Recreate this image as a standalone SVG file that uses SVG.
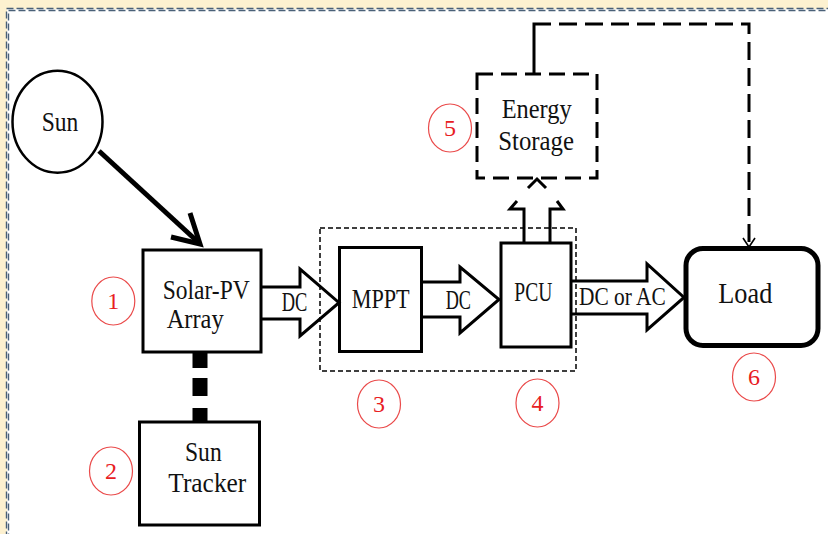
<svg xmlns="http://www.w3.org/2000/svg" width="828" height="534" viewBox="0 0 828 534">
<style>
.box{fill:none;stroke:#000;stroke-width:3}
.lbl{font-family:"Liberation Serif",serif;font-size:27px;fill:#111}
.num{font-family:"Liberation Serif",serif;font-size:24px;fill:#e8201f;text-anchor:middle}
.ring{fill:none;stroke:#ea4a4a;stroke-width:1.2}
.bar{fill:none;stroke:#000;stroke-width:3}
.border{fill:none;stroke:#4a6078;stroke-width:1.4;stroke-dasharray:7 3}
</style>
<rect x="0" y="0" width="828" height="534" fill="#fdf1d0"/>
<rect x="7" y="9" width="840" height="540" fill="#fff"/>
<rect class="border" x="6.5" y="8.5" width="840" height="540"/>
<rect class="border" x="8.5" y="10.5" width="840" height="540"/>

<g id="connectors">
  <line x1="99" y1="151" x2="198" y2="242" stroke="#000" stroke-width="5"/>
  <polyline points="171,237 200,244 190,213" fill="none" stroke="#000" stroke-width="5" stroke-linejoin="miter"/>
  <line x1="200" y1="353" x2="200" y2="422" stroke="#000" stroke-width="15" stroke-dasharray="15 10 18 12 15"/>
  <path class="bar" d="M261,287 H300 V269 L339,302.7 L300,336 V319 H261"/>
  <path class="bar" d="M421,282 H460 V267 L499,299.5 L460,333 V317 H421"/>
  <path class="bar" d="M571,281 H647 V264 L684,297.5 L647,330 V314 H571"/>
  <path class="bar" d="M524,243 V209 H510 L517,201"/>
  <path class="bar" d="M528,188 L537,179 L546,188"/>
  <path class="bar" d="M557,201 L563,209 H550 V243"/>
  <path class="bar" d="M534,74 V24 H551"/>
  <path class="bar" d="M559,24 H749 V244" stroke-dasharray="18 8"/>
  <polyline points="743,238 749,247 755,238" fill="none" stroke="#000" stroke-width="1.6"/>
</g>

<rect x="320" y="228" width="256" height="143" fill="none" stroke="#000" stroke-width="1.5" stroke-dasharray="5 3"/>

<g id="sun">
  <ellipse cx="57.5" cy="121.7" rx="45" ry="51" fill="none" stroke="#000" stroke-width="2.5"/>
  <text class="lbl" x="41.7" y="131" textLength="36.6" lengthAdjust="spacingAndGlyphs">Sun</text>
</g>
<g id="solar-pv">
  <rect class="box" x="143" y="250" width="118" height="102"/>
  <text class="lbl" x="162.7" y="299" textLength="87" lengthAdjust="spacingAndGlyphs">Solar-PV</text>
  <text class="lbl" x="166.7" y="328" textLength="57" lengthAdjust="spacingAndGlyphs">Array</text>
</g>
<g id="sun-tracker">
  <rect class="box" x="139.5" y="422" width="120" height="103"/>
  <text class="lbl" x="185" y="460.7" textLength="36.7" lengthAdjust="spacingAndGlyphs">Sun</text>
  <text class="lbl" x="168.3" y="491.7" textLength="78" lengthAdjust="spacingAndGlyphs">Tracker</text>
</g>
<g id="mppt">
  <rect class="box" x="339.5" y="247.5" width="82" height="104"/>
  <text class="lbl" x="351.7" y="308" textLength="58" lengthAdjust="spacingAndGlyphs">MPPT</text>
</g>
<g id="pcu">
  <rect class="box" x="501" y="243" width="70" height="104"/>
  <text class="lbl" x="514.3" y="301" textLength="38" lengthAdjust="spacingAndGlyphs">PCU</text>
</g>
<g id="energy-storage">
  <rect x="477" y="74" width="120" height="104" fill="none" stroke="#000" stroke-width="3" stroke-dasharray="16 8"/>
  <text class="lbl" x="501.7" y="118" textLength="70" lengthAdjust="spacingAndGlyphs">Energy</text>
  <text class="lbl" x="498.3" y="150" textLength="75.7" lengthAdjust="spacingAndGlyphs">Storage</text>
</g>
<g id="load">
  <rect x="686" y="248.5" width="132" height="97" rx="17" fill="none" stroke="#000" stroke-width="5"/>
  <text class="lbl" x="718.3" y="303.3" textLength="54" lengthAdjust="spacingAndGlyphs" style="font-size:30px">Load</text>
</g>
<g id="edge-labels">
  <text class="lbl" x="281.7" y="311" textLength="25.6" lengthAdjust="spacingAndGlyphs">DC</text>
  <text class="lbl" x="445.7" y="309.3" textLength="25.3" lengthAdjust="spacingAndGlyphs">DC</text>
  <text class="lbl" x="579" y="305" textLength="86.7" lengthAdjust="spacingAndGlyphs" style="font-size:25px">DC or AC</text>
</g>

<g id="n1"><ellipse class="ring" cx="113.3" cy="301" rx="21.5" ry="24"/><text class="num" x="113.3" y="309">1</text></g>
<g id="n2"><ellipse class="ring" cx="111" cy="471" rx="21.5" ry="24"/><text class="num" x="111" y="479">2</text></g>
<g id="n3"><ellipse class="ring" cx="379" cy="404" rx="21.5" ry="24"/><text class="num" x="379" y="412">3</text></g>
<g id="n4"><ellipse class="ring" cx="537.5" cy="403" rx="21.5" ry="24"/><text class="num" x="537.5" y="411">4</text></g>
<g id="n5"><ellipse class="ring" cx="450" cy="128" rx="21.5" ry="24"/><text class="num" x="450" y="136">5</text></g>
<g id="n6"><ellipse class="ring" cx="754" cy="377" rx="21.5" ry="24"/><text class="num" x="754" y="385">6</text></g>
</svg>
